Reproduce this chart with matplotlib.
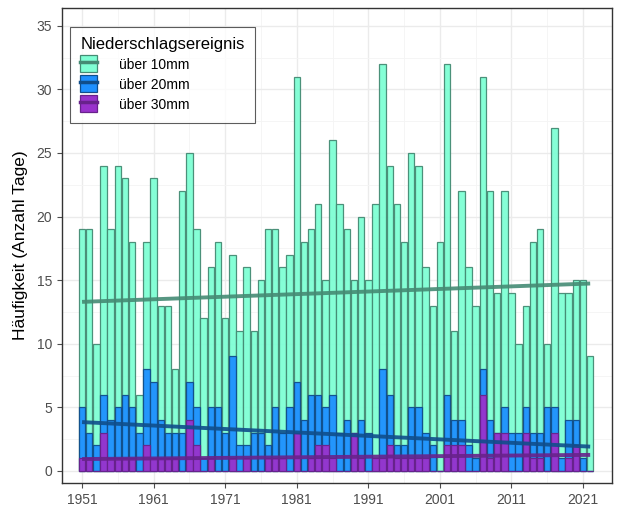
import numpy as np
import matplotlib.pyplot as plt
from matplotlib.patches import Patch
from matplotlib.lines import Line2D
from matplotlib.legend_handler import HandlerTuple

years = np.arange(1951, 2023)

# Tage über 10 mm
ueber10 = [19, 19, 10, 24, 19, 24, 23, 18, 6, 18, 23, 13, 13, 8, 22, 25, 19,
           12, 16, 18, 12, 17, 11, 16, 11, 15, 19, 19, 16, 17, 31, 18, 19, 21, 15, 26,
           21, 19, 15, 20, 15, 21, 32, 24, 21, 18, 25, 24, 16, 13, 18, 32, 11, 22,
           16, 13, 31, 22, 14, 22, 14, 10, 13, 18, 19, 10, 27, 14, 14, 15, 15, 9]
# Tage über 20 mm
ueber20 = [5, 3, 2, 6, 4, 5, 6, 5, 3, 8, 7, 4, 3, 3, 3, 7, 5, 1,
           5, 5, 3, 9, 2, 2, 3, 3, 2, 5, 3, 5, 7, 4, 6, 6, 5, 6,
           3, 4, 3, 4, 3, 1, 8, 6, 2, 2, 5, 5, 3, 2, 0, 6, 4, 4,
           2, 1, 8, 4, 3, 5, 3, 3, 5, 3, 3, 5, 5, 1, 4, 4, 1, 0]
# Tage über 30 mm
ueber30 = [1, 1, 0, 3, 1, 1, 1, 1, 0, 2, 1, 1, 1, 1, 0, 4, 2, 0,
           1, 0, 0, 1, 0, 1, 0, 0, 1, 1, 1, 0, 3, 0, 1, 2, 2, 1,
           0, 0, 3, 1, 0, 1, 1, 2, 1, 1, 1, 1, 1, 0, 0, 2, 2, 2,
           0, 0, 6, 1, 3, 3, 0, 0, 3, 1, 1, 0, 3, 0, 1, 2, 0, 0]

labels = ["über 10mm", "über 20mm", "über 30mm"]
fills = ["#7FFFD4", "#1E90FF", "#9932CC"]
edges = ["#458B74", "#104E8B", "#68228B"]

plt.rcParams["font.family"] = ["Liberation Sans", "DejaVu Sans"]

fig = plt.figure(figsize=(6.17, 5.14), dpi=100)
ax = fig.add_axes([62 / 617, 31 / 514, 550 / 617, 475 / 514])

u10 = np.array(ueber10)
u20 = np.array(ueber20)
u30 = np.array(ueber30)

handles = []
for vals, fc, ec in zip([u10, u20, u30], fills, edges):
    ax.bar(years, vals, width=0.9, color=fc, edgecolor=ec, linewidth=0.9,
           alpha=0.95, zorder=2)
    handles.append((Patch(facecolor=fc, edgecolor=ec, linewidth=0.9),
                    Line2D([], [], color=ec, lw=2.5)))

# lineare Trends je Klasse (10-20, 20-30, >30 mm)
for vals, ec in zip([u10 - u20, u20 - u30, u30], edges):
    k, d = np.polyfit(years, vals, 1)
    ax.plot(years, k * years + d, color=ec, lw=2.8, alpha=0.9, zorder=3,
            solid_capstyle="butt")

ax.set_xlim(1948.2, 2025.05)
ax.set_ylim(-0.95, 36.4)
ax.set_xticks(np.arange(1951, 2022, 10))
ax.set_xticks(np.arange(1956, 2025, 10), minor=True)
ax.set_yticks(np.arange(0, 36, 5))
ax.set_yticks(np.arange(2.5, 36, 5), minor=True)
ax.grid(which="major", color="#ebebeb", lw=1.0, zorder=0)
ax.grid(which="minor", color="#f4f4f4", lw=0.6, zorder=0)
ax.set_axisbelow(True)
ax.tick_params(which="major", labelsize=10, colors="#4d4d4d", length=3.5)
ax.tick_params(which="minor", length=0)
for s in ax.spines.values():
    s.set_color("#333333")
    s.set_linewidth(1.0)
ax.set_ylabel("Häufigkeit (Anzahl Tage)", fontsize=12.5, labelpad=6)

leg = ax.legend(handles, labels, title="Niederschlagsereignis", loc="upper left",
                bbox_to_anchor=(0.0145, 0.96), fontsize=10, title_fontsize=12,
                frameon=True, fancybox=False, edgecolor="#333333",
                handler_map={tuple: HandlerTuple(ndivide=1)},
                handlelength=1.2, handleheight=1.5, labelspacing=0.22,
                handletextpad=1.6, borderpad=0.75, borderaxespad=0)
leg.get_frame().set_linewidth(0.8)
leg._legend_box.align = "left"

fig.savefig("out.png", dpi=100)
